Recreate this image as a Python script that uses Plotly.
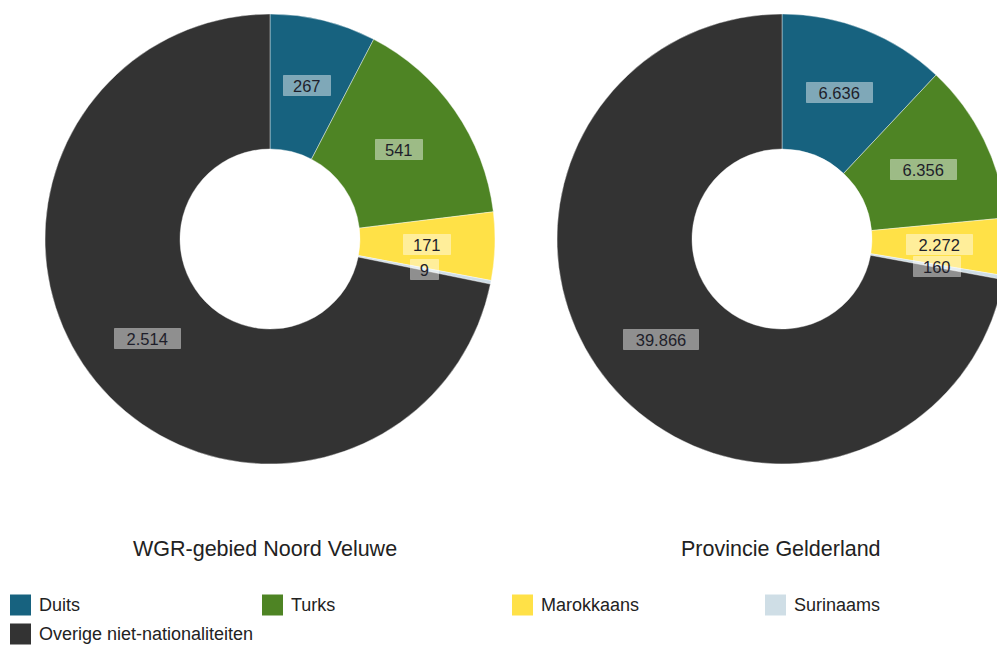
import math
import plotly.graph_objects as go

# ---- data ----
categories = ["Duits", "Turks", "Marokkaans", "Surinaams", "Overige niet-nationaliteiten"]
colors = ["#17627f", "#4e8424", "#ffe147", "#cfdee6", "#333333"]
noord_veluwe = [267, 541, 171, 9, 2514]
gelderland = [6636, 6356, 2272, 160, 39866]
titles = ["WGR-gebied Noord Veluwe", "Provincie Gelderland"]

# ---- layout constants (pixels) ----
W, H = 1010, 646
FONT = "Liberation Sans, Arial, sans-serif"
R_OUT, R_IN = 225, 90
centers = [(270, 239), (782, 239)]
title_x = [265, 781]
title_y = 549


def fmt(v):
    return f"{v:,}".replace(",", ".")


fig = go.Figure()
annotations = []
shapes = []

for (cx, cy), values, title, tx in zip(centers, [noord_veluwe, gelderland], titles, title_x):
    fig.add_trace(go.Pie(
        labels=categories,
        values=values,
        marker=dict(colors=colors, line=dict(color="rgba(255,255,255,0.4)", width=1)),
        hole=R_IN / R_OUT,
        sort=False,
        direction="clockwise",
        rotation=0,
        textinfo="none",
        hoverinfo="label+value",
        showlegend=False,
        domain=dict(x=[(cx - R_OUT) / W, (cx + R_OUT) / W],
                    y=[1 - (cy + R_OUT) / H, 1 - (cy - R_OUT) / H]),
    ))
    total = sum(values)
    cum = 0
    r_mid = (R_OUT + R_IN) / 2
    for v in values:
        mid = (cum + v / 2) / total
        cum += v
        th = 2 * math.pi * mid
        px = cx + r_mid * math.sin(th)
        py = cy - r_mid * math.cos(th)
        txt = fmt(v)
        annotations.append(dict(
            x=px / W, y=1 - py / H, xref="paper", yref="paper",
            text=txt, showarrow=False,
            font=dict(family=FONT, size=16.5, color="#1e1e2a"),
            bgcolor="rgba(255,255,255,0.45)",
            bordercolor="rgba(255,255,255,0.3)", borderwidth=1, borderpad=1,
            width=len(txt) * 9.5 + 15, height=17,
            xanchor="center", yanchor="middle",
        ))
    annotations.append(dict(
        x=tx / W, y=1 - title_y / H, xref="paper", yref="paper",
        text=title, showarrow=False,
        font=dict(family=FONT, size=21.5, color="#222222"),
        xanchor="center", yanchor="middle",
    ))

# ---- legend (manual, square swatches) ----
col_x = [10, 262, 512, 765]
row_y = [605, 634]
for i, (cat, col) in enumerate(zip(categories, colors)):
    cx0 = col_x[i % 4]
    ry = row_y[i // 4]
    shapes.append(dict(
        type="rect", xref="paper", yref="paper",
        x0=cx0 / W, x1=(cx0 + 21) / W,
        y0=1 - (ry + 10.5) / H, y1=1 - (ry - 10.5) / H,
        fillcolor=col, line=dict(width=0),
    ))
    annotations.append(dict(
        x=(cx0 + 27) / W, y=1 - ry / H, xref="paper", yref="paper",
        text=cat, showarrow=False,
        font=dict(family=FONT, size=18, color="#222222"),
        xanchor="left", yanchor="middle",
    ))

fig.update_layout(
    width=W, height=H,
    margin=dict(l=0, r=0, t=0, b=0),
    paper_bgcolor="white", plot_bgcolor="white",
    annotations=annotations, shapes=shapes,
    font=dict(family=FONT),
)

fig.write_html(
    "out.html",
    config={"displayModeBar": False},
    post_script="document.body.style.margin='0';document.body.style.overflow='hidden';",
)
